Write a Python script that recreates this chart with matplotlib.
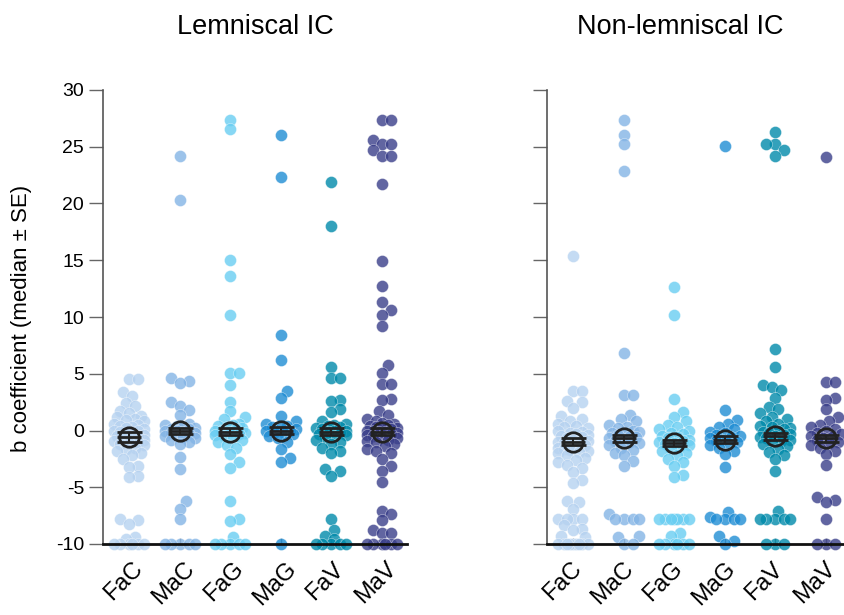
import numpy as np
import matplotlib
matplotlib.use("Agg")
import matplotlib.pyplot as plt
import matplotlib.transforms as mtransforms

plt.rcParams['font.family'] = ['Liberation Sans', 'DejaVu Sans']
plt.rcParams['axes.unicode_minus'] = False

groups = ["FaC", "MaC", "FaG", "MaG", "FaV", "MaV"]
colors = ["#b6d2f0", "#84b4e5", "#69cef2", "#1f8dd4", "#008aaa", "#3a3f8a"]
titles = ["Lemniscal IC", "Non-lemniscal IC"]

# b coefficients, lemniscal IC
lem_FaC = [4.5, 4.5, 3.4, 3.0, 2.4, 2.2, 1.7, 1.5, 1.3, 1.2, 1.0, 0.9, 0.8, 0.6, 0.5, 0.4, 0.3, 0.2,
           0.1, 0.0, 0.0, -0.1, -0.2, -0.3, -0.4, -0.5, -0.5, -0.6, -0.7, -0.8, -0.9, -1.0, -1.1,
           -1.2, -1.3, -1.5, -1.6, -1.8, -2.0, -2.2, -2.5, -3.1, -3.2, -4.0, -4.1, -7.8, -7.9, -8.2,
           -9.4, -9.6, -10, -10, -10, -10, -10, -10]
lem_MaC = [24.2, 20.3, 4.6, 4.4, 4.2, 2.5, 2.2, 1.8, 1.4, 0.6, 0.5, 0.4, 0.3, 0.2, 0.1, 0.1, 0.0, 0.0,
           -0.1, -0.2, -0.2, -0.3, -0.4, -0.5, -0.6, -0.7, -0.8, -1.0, -1.2, -2.3, -3.4, -6.2, -6.9,
           -7.8, -10, -10, -10, -10, -10]
lem_FaG = [27.4, 26.6, 15.0, 13.6, 10.2, 5.1, 5.1, 4.0, 2.5, 1.7, 1.2, 1.0, 0.6, 0.5, 0.4, 0.3, 0.2,
           0.1, 0.0, 0.0, -0.1, -0.2, -0.3, -0.4, -0.5, -0.6, -0.8, -1.0, -1.3, -1.5, -2.1, -2.8,
           -3.3, -6.2, -7.8, -8.0, -9.4, -10, -10, -10, -10, -10]
lem_MaG = [26.0, 22.3, 8.4, 6.2, 3.5, 2.9, 1.3, 0.8, 0.6, 0.4, 0.3, 0.2, 0.1, 0.0, 0.0, -0.1, -0.2,
           -0.3, -0.5, -0.7, -1.0, -1.6, -2.4, -2.8, -10]
lem_FaV = [21.9, 18.0, 5.6, 4.6, 4.6, 2.7, 2.6, 1.9, 1.6, 0.8, 0.6, 0.5, 0.4, 0.3, 0.2, 0.1, 0.0, 0.0,
           -0.1, -0.2, -0.3, -0.4, -0.5, -0.6, -0.8, -1.0, -1.2, -1.5, -1.8, -2.0, -3.4, -3.6, -4.0,
           -7.8, -8.8, -9.3, -9.6, -10, -10, -10, -10, -10]
lem_MaV = [27.4, 27.4, 25.6, 25.2, 25.2, 24.7, 24.2, 24.2, 21.7, 14.9, 12.7, 11.3, 10.6, 10.2, 9.2,
           5.8, 5.1, 4.1, 4.1, 2.8, 2.7, 1.7, 1.4, 1.0, 0.8, 0.7, 0.6, 0.5, 0.4, 0.3, 0.2, 0.2, 0.1,
           0.0, 0.0, -0.1, -0.1, -0.2, -0.3, -0.4, -0.5, -0.6, -0.7, -0.8, -0.9, -1.0, -1.2, -1.4,
           -1.6, -1.8, -2.0, -2.5, -3.1, -3.6, -4.5, -7.1, -7.4, -7.9, -8.8, -9.0, -9.0,
           -10, -10, -10, -10, -10, -10]

# b coefficients, non-lemniscal IC
non_FaC = [15.4, 3.5, 3.5, 2.6, 2.5, 2.0, 1.3, 1.0, 0.8, 0.6, 0.4, 0.3, 0.2, 0.0, -0.1, -0.2, -0.3,
           -0.4, -0.5, -0.6, -0.7, -0.8, -0.9, -1.0, -1.0, -1.1, -1.2, -1.3, -1.4, -1.5, -1.6, -1.7,
           -1.8, -1.9, -2.0, -2.2, -2.4, -2.6, -2.8, -3.0, -3.3, -3.7, -4.4, -4.6, -6.2, -6.3, -6.9,
           -7.8, -7.8, -7.8, -7.8, -8.3, -8.7, -8.8, -9.3, -9.4,
           -10, -10, -10, -10, -10, -10, -10, -10, -10]
non_MaC = [27.4, 26.0, 25.2, 22.9, 6.8, 3.1, 3.1, 1.4, 1.0, 0.8, 0.5, 0.3, 0.2, 0.0, -0.1, -0.2,
           -0.3, -0.4, -0.5, -0.6, -0.7, -0.8, -0.9, -1.0, -1.1, -1.3, -1.5, -1.7, -2.0, -2.2, -2.7,
           -3.1, -7.4, -7.8, -7.8, -7.8, -7.8, -9.3, -9.4, -10, -10]
non_FaG = [12.6, 10.2, 2.8, 1.6, 1.2, 0.8, 0.5, 0.3, 0.1, 0.0, -0.2, -0.3, -0.5, -0.6, -0.7, -0.8,
           -0.9, -1.0, -1.1, -1.2, -1.3, -1.4, -1.6, -1.8, -2.0, -2.2, -2.5, -2.8, -3.1, -3.9, -4.1,
           -7.8, -7.8, -7.8, -7.8, -7.8, -7.8, -7.8, -9.0, -9.3, -10, -10, -10, -10, -10, -10]
non_MaG = [25.1, 1.8, 0.9, 0.6, 0.3, 0.1, -0.1, -0.2, -0.4, -0.5, -0.6, -0.7, -0.8, -0.9, -1.0,
           -1.1, -1.3, -1.5, -1.8, -2.1, -3.2, -7.2, -7.6, -7.8, -7.8, -7.8, -7.8, -9.3, -9.7, -10]
non_FaV = [26.3, 25.2, 25.2, 24.7, 24.2, 7.2, 5.6, 4.0, 3.8, 3.6, 2.9, 2.1, 1.9, 1.5, 1.2, 1.0, 0.8,
           0.6, 0.4, 0.3, 0.2, 0.1, 0.0, -0.1, -0.2, -0.3, -0.4, -0.5, -0.6, -0.7, -0.8, -0.9, -1.0,
           -1.2, -1.4, -1.6, -1.9, -2.2, -2.5, -3.6, -7.1, -7.8, -7.8, -7.8, -7.8, -7.8,
           -10, -10, -10]
non_MaV = [24.1, 4.3, 4.3, 2.9, 2.7, 1.9, 1.2, 0.8, 0.5, 0.3, 0.1, 0.0, -0.2, -0.3, -0.5, -0.6,
           -0.7, -0.8, -1.0, -1.1, -1.3, -1.5, -1.8, -2.1, -3.0, -5.9, -6.1, -6.3, -7.8,
           -10, -10, -10]

lem_median = [-0.55, -0.05, -0.1, 0.0, -0.1, -0.1]
lem_se = [0.45, 0.3, 0.3, 0.3, 0.3, 0.3]
non_median = [-1.0, -0.7, -1.1, -0.8, -0.5, -0.7]
non_se = [0.3, 0.3, 0.3, 0.3, 0.3, 0.3]

panels = [
    ([lem_FaC, lem_MaC, lem_FaG, lem_MaG, lem_FaV, lem_MaV], lem_median, lem_se),
    ([non_FaC, non_MaC, non_FaG, non_MaG, non_FaV, non_MaV], non_median, non_se),
]

PX_X = 50.3   # pixels per category
PX_Y = 11.375  # pixels per unit of b


def swarm(vals, diam=9.0, maxw=17.0):
    # simple deterministic beeswarm, offsets returned in category units
    vals = np.asarray(vals, float)
    cands = [0.0]
    k = 1
    while k * 3.0 <= maxw:
        cands += [k * 3.0, -k * 3.0]
        k += 1
    offs = np.zeros(len(vals))
    placed = []
    for i in np.argsort(vals, kind="stable"):
        y = vals[i] * PX_Y
        best, bestd = 0.0, -1
        for c in cands:
            d = min([np.hypot(c - px, y - py) for px, py in placed], default=np.inf)
            if d >= diam:
                best = c
                break
            if d > bestd:
                best, bestd = c, d
        offs[i] = best
        placed.append((best, y))
    return offs / PX_X


fig = plt.figure(figsize=(8.45, 6.15), dpi=100)
lefts = [103 / 845, 547 / 845]
label_shift = [-6, -11]  # px, sideways shift of the rotated group names

for p, (data, med, se) in enumerate(panels):
    ax = fig.add_axes([lefts[p], 71 / 615, 304 / 845, 454 / 615])
    for i, vals in enumerate(data):
        x = i + swarm(vals)
        ax.scatter(x, vals, s=75, color=colors[i], alpha=0.8, edgecolors="white",
                   linewidths=0.3, clip_on=False, zorder=2)
    xs = np.arange(len(groups))
    ax.errorbar(xs, med, yerr=se, fmt="o", mfc="none", mec="#222222", ms=14, mew=2,
                ecolor="#222222", elinewidth=1.5, capsize=9, capthick=2, zorder=4)
    ax.hlines(med, xs - 0.24, xs + 0.24, color="#222222", lw=2, zorder=4)

    ax.set_xlim(-0.52, 5.5)
    ax.set_ylim(-10, 30)
    ax.set_yticks(range(-10, 31, 5))
    ax.set_xticks(xs)
    ax.tick_params(axis="x", direction="in", length=4, width=1, color="#777777",
                   labelbottom=False)
    # group names drawn as rotated texts under each tick
    base = mtransforms.blended_transform_factory(ax.transData, ax.transAxes)
    off = mtransforms.ScaledTranslation(label_shift[p] / 100, -14 / 100, fig.dpi_scale_trans)
    for i, name in enumerate(groups):
        ax.text(i, 0, name, transform=base + off, rotation=45, ha="center", va="top",
                fontsize=17)
    ax.tick_params(axis="y", direction="out", length=10, width=1, color="#666666",
                   labelsize=14, pad=3.5)
    if p == 1:
        ax.tick_params(axis="y", labelleft=False)
    for s in ["top", "right"]:
        ax.spines[s].set_visible(False)
    ax.spines["left"].set_color("#555555")
    ax.spines["left"].set_linewidth(1.2)
    ax.spines["bottom"].set_color("#111111")
    ax.spines["bottom"].set_linewidth(2)
    ax.spines["bottom"].set_zorder(5)

fig.text(255 / 845, 1 - 27 / 615, titles[0], ha="center", va="center", fontsize=19.5)
fig.text(680 / 845, 1 - 27 / 615, titles[1], ha="center", va="center", fontsize=19.5)
fig.text(22 / 845, 1 - 318 / 615, "b coefficient (median \u00b1 SE)", rotation=90,
         ha="center", va="center", fontsize=16)

fig.savefig("out.png", dpi=100)
